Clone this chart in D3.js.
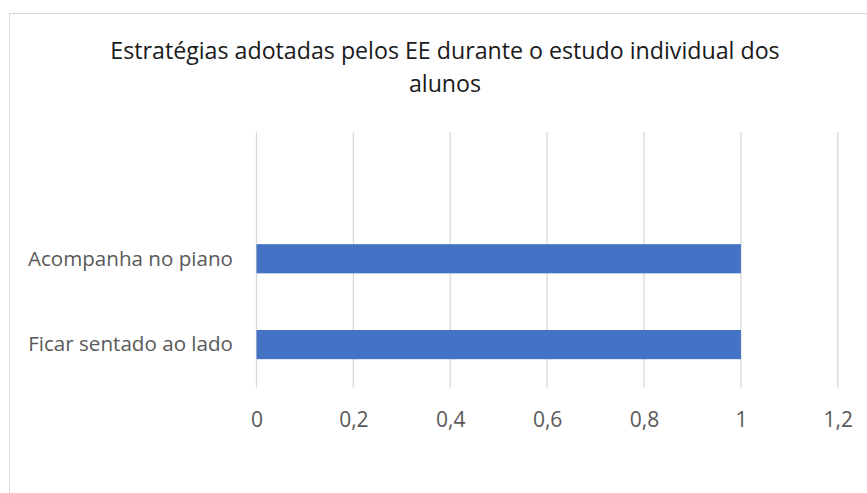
<!DOCTYPE html>
<html><head><meta charset="utf-8">
<script src="https://cdn.jsdelivr.net/npm/d3@7/dist/d3.min.js"></script>
<style>body{margin:0;background:#fff}svg{display:block}</style>
</head><body>
<script>
const titleLines = ["Estratégias adotadas pelos EE durante o estudo individual dos", "alunos"];
const categories = ["Acompanha no piano", "Ficar sentado ao lado"];
const values = [1, 1];
const xTicks = [0, 0.2, 0.4, 0.6, 0.8, 1, 1.2];

const W = 867, H = 493;
const svg = d3.select("body").append("svg").attr("width", W).attr("height", H);
svg.append("rect").attr("x", 9.5).attr("y", 13.5).attr("width", 900).attr("height", 600)
  .attr("fill", "#fff").attr("stroke", "#D9D9D9").attr("stroke-width", 1);

const font = "'Open Sans', sans-serif";
const x = d3.scaleLinear().domain([0, 1.2]).range([256.5, 837.8]);
// Excel-like band layout with an empty slot at the top
const y = d3.scaleBand().domain(["__empty__", ...categories]).range([130, 387.5]).paddingInner(0.66).paddingOuter(0.33);

const g = svg.append("g");
g.selectAll("line.grid").data(xTicks).join("line")
  .attr("x1", d => x(d)).attr("x2", d => x(d))
  .attr("y1", 132).attr("y2", 387.5)
  .attr("stroke", "#D9D9D9").attr("stroke-width", 1.3);

g.selectAll("rect.bar").data(categories).join("rect")
  .attr("x", x(0)).attr("width", (d, i) => x(values[i]) - x(0))
  .attr("y", d => y(d)).attr("height", y.bandwidth())
  .attr("fill", "#4472C4");

const xAxis = d3.axisBottom(x).tickValues(xTicks).tickSize(0).tickPadding(0)
  .tickFormat(d => String(d).replace(".", ","));
const ax = svg.append("g").attr("transform", "translate(0,427)").call(xAxis);
ax.select(".domain").remove();
ax.selectAll("text").attr("font-family", font).attr("font-size", 21).attr("fill", "#595959").attr("dy", 0).attr("y", 0);

const yAxis = d3.axisLeft(y).tickValues(categories).tickSize(0).tickPadding(0);
const ay = svg.append("g").attr("transform", "translate(233,0)").call(yAxis);
ay.select(".domain").remove();
ay.selectAll("text").attr("font-family", font).attr("font-size", 20.6).attr("fill", "#595959").attr("dy", "0.33em");

svg.append("text").attr("x", 445).attr("text-anchor", "middle")
  .attr("font-family", font).attr("font-size", 23.2).attr("fill", "#1a1a1a")
  .selectAll("tspan").data(titleLines).join("tspan")
  .attr("x", 445).attr("y", (d, i) => 59 + i * 33).text(d => d);
</script>
</body></html>
